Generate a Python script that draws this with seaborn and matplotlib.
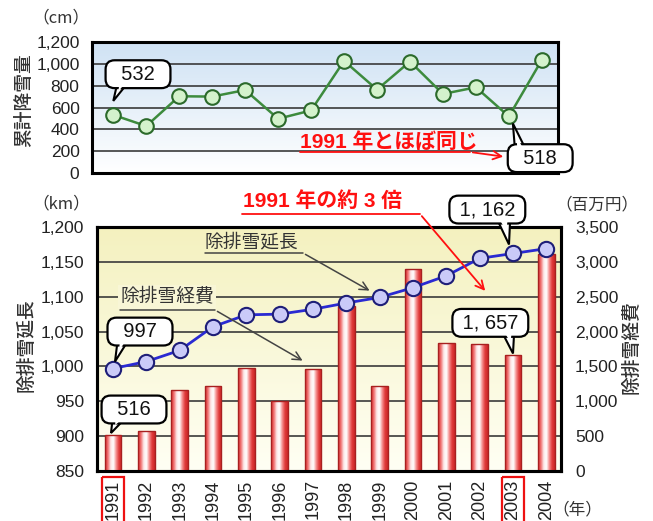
import numpy as np
import matplotlib
matplotlib.use("Agg")
import matplotlib.pyplot as plt
import seaborn as sns
from matplotlib.patches import Rectangle, FancyArrowPatch, Polygon
from matplotlib.lines import Line2D
from matplotlib.transforms import IdentityTransform
from matplotlib.ticker import FuncFormatter, FixedLocator, MultipleLocator
from matplotlib.colors import to_rgb
from matplotlib import font_manager

# ---- data -------------------------------------------------------------
years = [1991, 1992, 1993, 1994, 1995, 1996, 1997, 1998, 1999, 2000, 2001, 2002, 2003, 2004]
snowfall_cm = [532, 430, 703, 700, 760, 497, 573, 1027, 764, 1021, 724, 785, 518, 1036]
removal_km = [997, 1007, 1023, 1057, 1074, 1075, 1082, 1091, 1099, 1113, 1130, 1155, 1162, 1169]
cost_myen = [516, 567, 1167, 1215, 1480, 1000, 1460, 2368, 1215, 2892, 1835, 1820, 1657, 3115]
year_labels = [str(y) for y in years]

# ---- style -------------------------------------------------------------
sns.set_style("white")
plt.rcParams["font.family"] = ["Liberation Sans", "Noto Sans CJK JP", "DejaVu Sans"]
JP = ["Noto Sans CJK JP", "DejaVu Sans"]
_names = {f.name for f in font_manager.fontManager.ttflist}
_narrow = "Liberation Sans Narrow" if "Liberation Sans Narrow" in _names else "Liberation Sans"
NARROW = [_narrow, "Noto Sans CJK JP"]

W, H = 653, 521
fig = plt.figure(figsize=(W / 100, H / 100), dpi=100)
fig.patch.set_facecolor("white")


def P(x, y):
    """pixel position (from top-left) -> figure fraction"""
    return (x / W, 1 - y / H)


def rect(l, t, r, b):
    return [l / W, 1 - b / H, (r - l) / W, (b - t) / H]


def vgrad(ax, top, bottom, z=-10):
    c0, c1 = np.array(to_rgb(top)), np.array(to_rgb(bottom))
    t = np.linspace(0, 1, 256)[:, None]
    img = (c0 * (1 - t) + c1 * t)[:, None, :]
    ax.imshow(img, extent=[0, 1, 0, 1], transform=ax.transAxes,
              aspect="auto", zorder=z, interpolation="bilinear")


def style_frame(ax, lw=2.2):
    for s in ax.spines.values():
        s.set_visible(True)
        s.set_linewidth(lw)
        s.set_color("black")


thousands = FuncFormatter(lambda v, p: f"{v:,.0f}")

# ---- top: cumulative snowfall -----------------------------------------
ax_t = fig.add_axes(rect(92, 42, 558, 173))
vgrad(ax_t, "#cfe2f4", "#ffffff")
sns.lineplot(x=years, y=snowfall_cm, ax=ax_t, color="#3d8b3d", linewidth=1.8,
             marker="o", markersize=10.5, markerfacecolor="#d4f2cc",
             markeredgecolor="#2b6a2b", markeredgewidth=1.5, zorder=5)
ax_t.set_xlim(1991 - 0.646, 1991 + 13.49)
ax_t.set_ylim(0, 1200)
ax_t.yaxis.set_major_locator(MultipleLocator(200))
ax_t.yaxis.set_major_formatter(thousands)
ax_t.set_xticks([])
ax_t.xaxis.set_minor_locator(FixedLocator([y + 0.5 for y in years[:-1]]))
ax_t.tick_params(axis="x", which="minor", direction="in", length=3, width=1, color="#555")
ax_t.tick_params(axis="y", length=0, pad=9, labelsize=12.5, labelcolor="#222")
ax_t.grid(axis="y", color="#3a3a3a", linewidth=1.2)
ax_t.set_axisbelow(True)
ax_t.set_xlabel("")
ax_t.set_ylabel("")
style_frame(ax_t)

# ---- bottom: removal length (line) and cost (bars) --------------------
ax_k = fig.add_axes(rect(97, 227, 561, 471))
ax_c = ax_k.twinx()
ax_k.set_zorder(ax_c.get_zorder() + 1)
ax_k.patch.set_visible(False)

vgrad(ax_c, "#f4f1bf", "#fffff4")
sns.barplot(x=years, y=cost_myen, ax=ax_c, native_scale=True, orient="x",
            width=0.5, color="#e03c3c", saturation=1,
            edgecolor="#a82020", linewidth=1.0, zorder=3)

# shaded cylinder look on each bar
bar_cmap = np.array([to_rgb(c) for c in
                     ["#d83030", "#f07070", "#fde6e6", "#ffffff", "#f59090", "#e03a3a", "#cc2828"]])
xs = np.linspace(0, 1, len(bar_cmap))
xx = np.linspace(0, 1, 64)
grad = np.stack([np.interp(xx, xs, bar_cmap[:, i]) for i in range(3)], axis=-1)[None, :, :]
for p in list(ax_c.patches):
    x0, w, h = p.get_x(), p.get_width(), p.get_height()
    im = ax_c.imshow(grad, extent=[x0, x0 + w, 0, h], aspect="auto",
                     zorder=3.1, interpolation="bilinear")
    im.set_clip_path(p)
    p.set_facecolor("none")
    p.set_zorder(3.2)

ax_c.set_ylim(0, 3500)
ax_c.yaxis.set_major_locator(MultipleLocator(500))
ax_c.yaxis.set_major_formatter(thousands)
ax_c.grid(axis="y", color="#3a3a3a", linewidth=1.2)
ax_c.set_axisbelow(True)
ax_c.tick_params(axis="y", length=0, pad=10, labelsize=12.5, labelcolor="#222")
ax_c.set_ylabel("")
style_frame(ax_c)

sns.lineplot(x=years, y=removal_km, ax=ax_k, color="#2a2ad2", linewidth=2.0,
             marker="o", markersize=11, markerfacecolor="#cacaf8",
             markeredgecolor="#1e1e78", markeredgewidth=1.5, zorder=6)
ax_k.set_ylim(850, 1200)
ax_k.yaxis.set_major_locator(MultipleLocator(50))
ax_k.yaxis.set_major_formatter(thousands)
ax_k.set_xlim(1991 - 0.48, 2004 + 0.44)
ax_k.set_xticks(years)
ax_k.set_xticklabels(year_labels, rotation=90, va="top", ha="center")
ax_k.xaxis.set_minor_locator(FixedLocator([y + 0.5 for y in years[:-1]]))
ax_k.tick_params(axis="x", which="major", length=0, pad=6, labelsize=13, labelcolor="#222")
ax_k.tick_params(axis="x", which="minor", direction="in", length=3, width=1, color="#555")
ax_k.tick_params(axis="y", length=0, pad=9, labelsize=12.5, labelcolor="#222")
ax_k.set_xlabel("")
ax_k.set_ylabel("")
style_frame(ax_k)

# red frames around the compared years
for yr in (1991, 2003):
    ax_k.add_patch(Rectangle((yr - 0.34, -0.026), 0.68, -0.3,
                             transform=ax_k.get_xaxis_transform(), fill=False,
                             edgecolor="#ee1111", linewidth=1.6, clip_on=False, zorder=20))


# ---- speech-bubble callouts --------------------------------------------
def callout(ax, text, xy, xytext, base_dx, tip_d, side="bottom", fs=14.5):
    """Rounded label box at xytext (data) with a tail pointing at xy (data).
    base_dx: tail base span relative to box centre (px); tip_d: tip offset from
    the data point (px, y downward); side: box edge the tail leaves from."""
    ident = IdentityTransform()
    cx, cy = ax.transData.transform(xytext)
    px, py = ax.transData.transform(xy)
    tip = np.array([px + tip_d[0], py - tip_d[1]])
    by = cy - 6 if side == "bottom" else cy + 6
    b1 = np.array([cx + base_dx[0], by])
    b2 = np.array([cx + base_dx[1], by])
    fig.add_artist(Polygon([b1, tip, b2], closed=True, fc="white", ec="black",
                           lw=1.5, transform=ident, zorder=29))
    fig.text(cx, cy, text, transform=ident, ha="center", va="center",
             fontsize=fs, family=NARROW, color="#111", zorder=30,
             bbox=dict(boxstyle="round,pad=0.22,rounding_size=0.45",
                       fc="white", ec="black", lw=1.6))
    mid = (b1 + b2) / 2
    inner_tip = tip + 0.45 * (mid - tip)
    fig.add_artist(Polygon([b1 + [2.2, 0], inner_tip, b2 - [2.2, 0]], closed=True,
                           fc="white", ec="none", transform=ident, zorder=31))


callout(ax_t, "  532  ", (years[0], snowfall_cm[0]), (1991.75, 905), (-20, -8), (0, -14))
callout(ax_t, "  518  ", (years[12], snowfall_cm[12]), (2003.95, 136), (-25, -13), (4, 7), side="top")
callout(ax_k, "  997  ", (years[0], removal_km[0]), (1991.81, 1050), (-22, -10), (2, -7))
callout(ax_c, "  516  ", (years[0], cost_myen[0]), (1991.63, 882), (-21, -6), (-2, -2))
callout(ax_k, " 1, 162 ", (years[12], removal_km[12]), (2002.23, 1225), (8, 23), (-4, -9))
callout(ax_c, " 1, 657 ", (years[12], cost_myen[12]), (2002.32, 2125), (10, 24), (0, -2))


# ---- series labels and red remarks --------------------------------------
def fline(pts, color, lw=1.2, arrow_to=None):
    xs_, ys_ = zip(*[P(*p) for p in pts])
    fig.add_artist(Line2D(xs_, ys_, transform=fig.transFigure, color=color, lw=lw, zorder=25))
    if arrow_to is not None:
        fig.add_artist(FancyArrowPatch(P(*pts[-1]), P(*arrow_to), transform=fig.transFigure,
                                       arrowstyle="->,head_length=6,head_width=3",
                                       mutation_scale=1, color=color, lw=lw, zorder=25))


fig.text(*P(205, 242), "除排雪延長", family=JP, fontsize=13.5, color="#333",
         ha="left", va="center", zorder=26)
fline([(205, 253), (303, 253)], "#444", 1.1, arrow_to=(372, 292))

fig.text(*P(120, 297), "除排雪経費", family=JP, fontsize=13.5, color="#333",
         ha="left", va="center", zorder=26,
         bbox=dict(boxstyle="square,pad=0.1", fc="#f8f6d6", ec="none"))
fline([(120, 310), (215, 310)], "#444", 1.1, arrow_to=(305, 362))

fig.text(*P(300, 142), "1991 年とほぼ同じ", family=NARROW, fontsize=15,
         fontweight="bold", color="#ff1010", ha="left", va="center", zorder=26)
fline([(300, 152), (470, 152)], "#ff1010", 1.3, arrow_to=(506, 157))

fig.text(*P(243, 201), "1991 年の約 3 倍", family=NARROW, fontsize=15,
         fontweight="bold", color="#ff1010", ha="left", va="center", zorder=26)
fline([(242, 214), (420, 214)], "#ff1010", 1.3, arrow_to=(487, 293))

# ---- axis titles and units ---------------------------------------------
lab = dict(family=JP, color="#333", ha="center", va="center")
fig.text(*P(61, 18), "（cm）", fontsize=12, **lab)
fig.text(*P(24, 100), "累計降雪量", fontsize=13.5, rotation=90, fontweight="medium", **lab)
fig.text(*P(61, 204), "（km）", fontsize=12, **lab)
fig.text(*P(26, 345), "除排雪延長", fontsize=13.5, rotation=90, fontweight="medium", **lab)
fig.text(*P(597, 205), "（百万円）", fontsize=12, **lab)
fig.text(*P(631, 347), "除排雪経費", fontsize=13.5, rotation=90, fontweight="medium", **lab)
fig.text(*P(577, 510), "（年）", fontsize=12, **lab)

fig.savefig("out.png", dpi=100)
